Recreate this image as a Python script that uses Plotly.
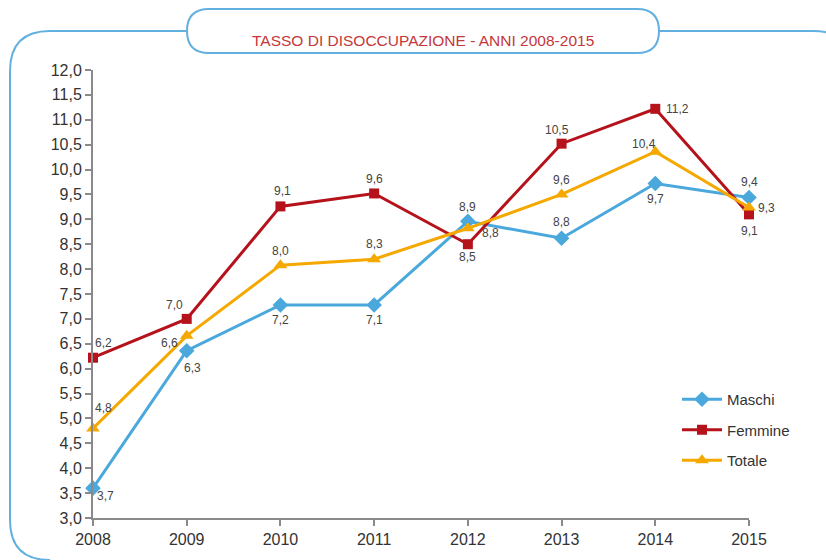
import plotly.graph_objects as go

years = [2008, 2009, 2010, 2011, 2012, 2013, 2014, 2015]
maschi = [3.6, 6.36, 7.28, 7.28, 8.96, 8.62, 9.72, 9.44]
femmine = [6.22, 7.0, 9.26, 9.52, 8.5, 10.52, 11.22, 9.1]
totale = [4.8, 6.66, 8.08, 8.2, 8.82, 9.5, 10.36, 9.24]
maschi_lbl = ["3,7", "6,3", "7,2", "7,1", "8,9", "8,8", "9,7", "9,4"]
femmine_lbl = ["6,2", "7,0", "9,1", "9,6", "8,5", "10,5", "11,2", "9,1"]
totale_lbl = ["4,8", "6,6", "8,0", "8,3", "8,8", "9,6", "10,4", "9,3"]
y_ticks = [3.0 + 0.5 * i for i in range(19)]
title_text = "TASSO DI DISOCCUPAZIONE - ANNI 2008-2015"

W, H = 826, 560
L, R, T, B = 93, 77, 70, 42
PW, PH = W - L - R, H - T - B
FONT = "Liberation Sans, Arial, sans-serif"

def px(x, y):
    return ((x - L) / PW, (H - B - y) / PH)

def path(cmds):
    out = []
    for c in cmds:
        op = c[0]
        pts = c[1:]
        s = op
        for i in range(0, len(pts), 2):
            a, b = px(pts[i], pts[i + 1])
            s += f" {a:.5f},{b:.5f}"
        out.append(s)
    return " ".join(out)

BLUE = "#4aa8dc"
RED = "#b5121b"
ORANGE = "#f5a800"
FRAME = "#62b0e0"

fig = go.Figure()
series = [
    ("Maschi", maschi, BLUE, "diamond", 12),
    ("Femmine", femmine, RED, "square", 10),
    ("Totale", totale, ORANGE, "triangle-up", 12),
]
for i, (name, vals, col, sym, sz) in enumerate(series):
    fig.add_trace(go.Scatter(
        x=years, y=vals, name=name, mode="lines+markers",
        line=dict(color=col, width=3),
        marker=dict(symbol=sym, size=sz, color=col),
        cliponaxis=False, legendgroup=f"g{i}",
    ))

# label offsets (xshift, yshift) in pixels
m_off = [(12, -8), (6, -17), (0, -15), (0, -15), (0, 14), (0, 16), (0, -16), (0, 15)]
f_off = [(10, 15), (-12, 14), (2, 15), (0, 14), (0, -13), (-5, 14), (22, 0), (0, -17)]
t_off = [(10, 20), (-17, -7), (0, 14), (0, 15), (23, -5), (0, 14), (-11, 8), (17, -1)]

ann = []
for vals, lbls, offs in [(maschi, maschi_lbl, m_off), (femmine, femmine_lbl, f_off), (totale, totale_lbl, t_off)]:
    for x, y, t, (dx, dy) in zip(years, vals, lbls, offs):
        ann.append(dict(x=x, y=y, text=t, showarrow=False, xshift=dx, yshift=dy,
                        font=dict(size=12, color="#444444", family=FONT)))

ann.append(dict(x=px(423, 30)[0], y=px(423, 30)[1], xref="paper", yref="paper", text=title_text,
                showarrow=False, font=dict(size=15.5, color="#c4373a", family=FONT)))

shapes = []
shapes.append(dict(type="path", xref="paper", yref="paper", line=dict(color=FRAME, width=2),
                   path=path([("M", 187, 31), ("L", 50, 31), ("Q", 10, 31, 10, 71), ("L", 10, 520),
                              ("Q", 10, 560, 50, 560)])))
shapes.append(dict(type="path", xref="paper", yref="paper", line=dict(color=FRAME, width=2),
                   path=path([("M", 659, 31), ("L", 813, 31), ("Q", 853, 31, 853, 71)])))
shapes.append(dict(type="path", xref="paper", yref="paper", line=dict(color=FRAME, width=2),
                   fillcolor="white",
                   path=path([("M", 209, 9), ("L", 637, 9), ("Q", 659, 9, 659, 31), ("Q", 659, 53, 637, 53),
                              ("L", 209, 53), ("Q", 187, 53, 187, 31), ("Q", 187, 9, 209, 9), ("Z",)])))

fig.update_layout(
    width=W, height=H, margin=dict(l=L, r=R, t=T, b=B, autoexpand=False),
    paper_bgcolor="white", plot_bgcolor="white",
    separators=",.",
    font=dict(family=FONT, size=13, color="#333333"),
    showlegend=True,
    legend=dict(x=px(677, 0)[0], y=px(0, 383)[1], xanchor="left", yanchor="top",
                traceorder="grouped", tracegroupgap=8, itemwidth=40,
                font=dict(size=15, color="#333333", family=FONT),
                bgcolor="rgba(0,0,0,0)"),
    annotations=ann, shapes=shapes,
)
axis_common = dict(showgrid=False, zeroline=False, showline=True, linecolor="#8a8a8a", linewidth=2,
                   ticks="outside", ticklen=6, tickwidth=2, tickcolor="#8a8a8a",
                   tickfont=dict(size=16, color="#333333", family=FONT))
fig.update_xaxes(range=[2008, 2015], tickmode="array", tickvals=years, ticktext=[str(y) for y in years],
                 **axis_common)
fig.update_yaxes(range=[3, 12], tickmode="array", tickvals=y_ticks,
                 ticktext=[f"{v:.1f}".replace(".", ",") for v in y_ticks], **axis_common)

fig.write_html("out.html", config={"displayModeBar": False},
               post_script="document.body.style.margin='0';")
